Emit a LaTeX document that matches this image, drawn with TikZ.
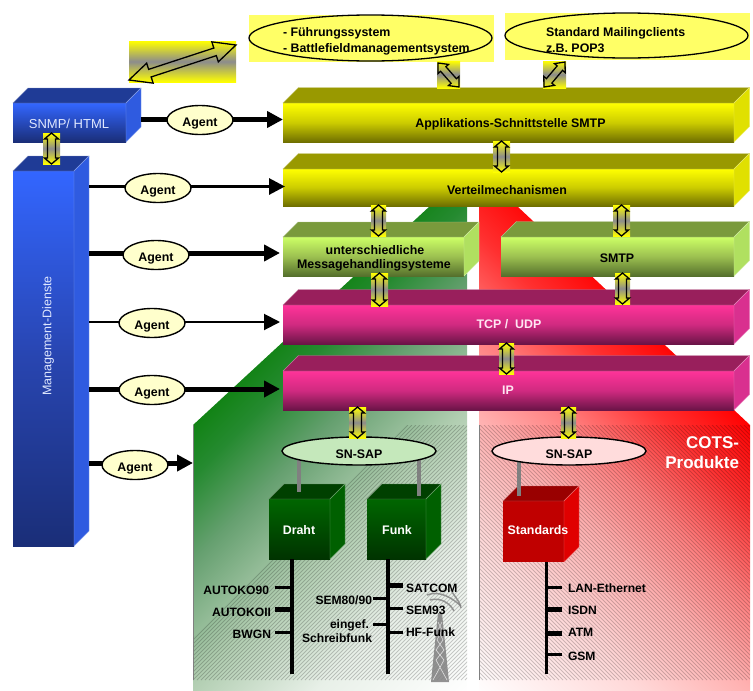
\documentclass[tikz,border=0pt]{standalone}
\usepackage{fontspec}
\setmainfont{Liberation Sans}
\usetikzlibrary{arrows.meta,calc,shapes.geometric}
\definecolor{gA}{HTML}{0A800A}\definecolor{gB}{HTML}{258A30}\definecolor{gC}{HTML}{66A070}\definecolor{gD}{HTML}{B0CDB0}\definecolor{gE}{HTML}{E8F0E8}
\definecolor{rB}{HTML}{FF3030}\definecolor{rC}{HTML}{FF8080}\definecolor{rD}{HTML}{FFB0B0}\definecolor{rE}{HTML}{FFD8D8}
\pgfdeclarehorizontalshading{greenS}{100bp}{color(0bp)=(gA); color(30bp)=(gA); color(35bp)=(gB); color(41bp)=(gC); color(49.5bp)=(gD); color(59bp)=(gE); color(70bp)=(white); color(100bp)=(white)}
\pgfdeclarehorizontalshading{redS}{100bp}{color(0bp)=(red); color(33bp)=(red); color(39bp)=(rB); color(46bp)=(rC); color(52bp)=(rD); color(60bp)=(rE); color(72bp)=(white); color(100bp)=(white)}
\definecolor{agentfill}{HTML}{FFFFCC}\definecolor{stubgray}{HTML}{808080}
\definecolor{yellowmid}{HTML}{CCCC00}\definecolor{yellowdark}{HTML}{6F6F00}\definecolor{yellowtop}{HTML}{999900}\definecolor{yellowside}{HTML}{E0E000}
\definecolor{greenlight}{HTML}{CCFF66}\definecolor{greenmid}{HTML}{9CC050}\definecolor{greendark}{HTML}{55702C}\definecolor{greentop}{HTML}{7A9A3C}\definecolor{greenside}{HTML}{B0E060}
\definecolor{pinkmain}{HTML}{FF3399}\definecolor{pinkmid}{HTML}{D02A80}\definecolor{pinkdark}{HTML}{6B1447}\definecolor{pinktop}{HTML}{991F5C}\definecolor{pinkside}{HTML}{D9308F}
\definecolor{bluemain}{HTML}{3366FF}\definecolor{bluemid}{HTML}{2845B0}\definecolor{bluedark}{HTML}{1A2E78}\definecolor{bluetop}{HTML}{1F3B96}\definecolor{blueside}{HTML}{2F5BE0}
\definecolor{cubegreen}{HTML}{006600}\definecolor{cubegreendark}{HTML}{003300}\definecolor{cubegreentop}{HTML}{004000}\definecolor{cubegreenside}{HTML}{006000}
\definecolor{cubered}{HTML}{C00000}\definecolor{cuberedtop}{HTML}{990000}\definecolor{cuberedside}{HTML}{E00000}
\definecolor{lightyellow}{HTML}{FFFF66}\definecolor{sapgreen}{HTML}{C5E8BB}\definecolor{sapred}{HTML}{FFDCDC}
\definecolor{arrowgray}{HTML}{8C8C8C}\definecolor{pinktext}{HTML}{FFE6F2}\definecolor{bluetext}{HTML}{E0E8FF}
\tikzset{
  lab/.style={inner sep=0pt,outer sep=0pt,font=\bfseries\fontsize{12.4}{14}\selectfont,text height=8.8pt,text depth=0pt},
  listlab/.style={lab,font=\bfseries\fontsize{12.1}{14}\selectfont},
  agentnode/.style={ellipse,draw=black,line width=1.4pt,fill=agentfill,minimum width=66pt,minimum height=29pt,inner sep=0pt,font=\bfseries\fontsize{12.4}{14}\selectfont,text height=12.5pt,text depth=0pt},
  appnode/.style={ellipse,draw=black,line width=1.3pt,inner sep=0pt},
  sapnode/.style={ellipse,draw=black,line width=1.4pt,minimum width=154pt,minimum height=28pt,inner sep=0pt,font=\bfseries\fontsize{12.4}{14}\selectfont,text height=14pt,text depth=0pt},
  agline/.style={line width=#1,-{Triangle[length=16pt,width=16pt]}},
  stub/.style={draw=stubgray,line width=4.5pt},
  yellowfront/.style={top color=yellow,bottom color=yellowdark,middle color=yellowmid},
  greenfront/.style={top color=greenlight,bottom color=greendark,middle color=greenmid},
  pinkfront/.style={top color=pinkmain,bottom color=pinkdark,middle color=pinkmid},
  bluefront/.style={top color=bluemain,bottom color=bluedark},
  tallfront/.style={top color=bluemain,bottom color=bluedark,middle color=bluemid},
  dgfront/.style={top color=cubegreen,bottom color=cubegreendark},
  redfront/.style={fill=cubered},
  hatchline/.style={line width=.9pt,draw=black,opacity=.2},
}
% name, x0,y0,x1,y1, depth, front style, top colour, side colour
\newcommand\boxthree[9]{%
  \node[rectangle,inner sep=0pt,outer sep=0pt,minimum width={(#4-#2)*1pt},minimum height={(#5-#3)*1pt},#7] (#1) at ({(#2+#4)/2},{(#3+#5)/2}) {};
  \filldraw[fill=#8,draw=#8!60!white,line width=.4pt] (#1.north west) -- ++(#6,-#6) -- ++({#4-#2},0) -- (#1.north east) -- cycle;
  \filldraw[fill=#9,draw=#9!60!white,line width=.4pt] (#1.north east) -- ++(#6,-#6) -- ++(0,{#5-#3}) -- (#1.south east) -- cycle;
}
% from x1,y1 to x2,y2 : head half-width, head length, shaft half-width
\newcommand\twoway[7]{%
  \pgfmathsetmacro\dblL{veclen(#3-#1,#4-#2)}%
  \pgfmathsetmacro\dblA{atan2(-(#4-#2),#3-#1)}%
  \draw[black,line width=1.3pt,line join=miter,shift={(#1,#2)},rotate=\dblA]
    (0,0) -- (#6,#5) -- (#6,#7) -- ({\dblL-#6},#7) -- ({\dblL-#6},#5) -- (\dblL,0)
    -- ({\dblL-#6},-#5) -- ({\dblL-#6},-#7) -- (#6,-#7) -- (#6,-#5) -- cycle;
}
% gradient patch x0,y0,x1,y1
\newcommand\patch[4]{\shade[top color=yellow,bottom color=yellow,middle color=arrowgray] (#1,#2) rectangle (#3,#4);}
% vertical double arrow in its patch
\newcommand\vtwo[4]{\patch{#1}{#2}{#3}{#4}\pgfmathsetmacro\midx{(#1+#3)/2}\twoway{\midx}{#2}{\midx}{#4}{7}{6}{4}}
\begin{document}
\begin{tikzpicture}[x=1pt,y=-1pt]
\useasboundingbox (0,0) rectangle (753,691);
% green backdrop
\begin{scope}
  \clip (193,425) -- (430,206) -- (467,206) -- (467,691) -- (193,691) -- cycle;
  \shade[shading=greenS,shading angle=-45] (180,200) rectangle (680,700);
  \clip (193,425) rectangle (467,680);
  \foreach \k in {0,4,...,560}{\draw[hatchline] ({193+\k-40},680) -- ({193+\k+255-40},425);}
\end{scope}
\draw[stubgray,line width=.5pt] (193,425) -- (193,680);
% red backdrop
\begin{scope}
  \clip (479,206) -- (517,206) -- (750,425) -- (750,691) -- (479,691) -- cycle;
  \shade[shading=redS,shading angle=-135] (290,200) rectangle (790,700);
  \clip (479,425) rectangle (750,680);
  \foreach \k in {0,4,...,560}{\draw[hatchline] ({479+\k-255},425) -- ({479+\k},680);}
\end{scope}
\draw[stubgray,line width=.5pt] (479,425) -- (479,680);
% top application ellipses
\fill[lightyellow] (249,15) rectangle (494,62);
\fill[lightyellow] (505,13) rectangle (750,60);
\node[appnode,minimum width=243pt,minimum height=46pt] (fuehr) at (370.5,38) {};
\node[appnode,minimum width=243pt,minimum height=45pt] (mail) at (626.5,35.5) {};
\node[lab,anchor=west] (fuehrA) at (283,32) {- Führungssystem};
\node[lab,anchor=west] (fuehrB) at (283,48) {- Battlefieldmanagementsystem};
\node[lab,anchor=west] (mailA) at (546,32) {Standard Mailingclients};
\node[lab,anchor=west] (mailB) at (546,48) {z.B. POP3};
% big free double arrow
\patch{129}{41}{236}{82}
\twoway{129}{80}{236}{45}{10.5}{22}{4}
% layer boxes
\boxthree{snmp}{13}{103}{126}{142}{15}{bluefront}{bluetop}{blueside}
\boxthree{mgmt}{13}{171}{74}{546}{15}{tallfront}{bluetop}{blueside}
\boxthree{appl}{283}{103}{734}{142}{15.5}{yellowfront}{yellowtop}{yellowside}
\boxthree{vert}{283}{169}{734}{206}{15.5}{yellowfront}{yellowtop}{yellowside}
\boxthree{msg}{283}{237}{464}{276}{15}{greenfront}{greentop}{greenside}
\boxthree{smtp}{501}{237}{734}{276}{15.5}{greenfront}{greentop}{greenside}
\boxthree{tcp}{283}{305}{734}{344}{15.5}{pinkfront}{pinktop}{pinkside}
\boxthree{ip}{283}{371}{734}{410}{15.5}{pinkfront}{pinktop}{pinkside}
% cubes
\boxthree{draht}{269}{499}{330}{559}{15}{dgfront}{cubegreentop}{cubegreenside}
\boxthree{funk}{367}{499}{426}{559}{15}{dgfront}{cubegreentop}{cubegreenside}
\boxthree{stand}{503}{501}{564}{562}{15}{redfront}{cuberedtop}{cuberedside}
% stubs, then SAP ellipses over their upper ends
\coordinate (sapgc) at (359,451);
\coordinate (saprc) at (569,451);
\coordinate (dstub) at (299,492);
\coordinate (fstub) at (419,496);
\coordinate (sstub) at (519,496);
\draw[stub] (sapgc -| dstub) -- (dstub);
\draw[stub] (sapgc -| fstub) -- (fstub);
\draw[stub] (saprc -| sstub) -- (sstub);
\node[sapnode,fill=sapgreen] (sapg) at (sapgc) {SN-SAP};
\node[sapnode,fill=sapred] (sapr) at (saprc) {SN-SAP};
% bars
\draw[line width=4.5pt] (draht.south -| 292,0) -- (292,674);
\draw[line width=4pt] (funk.south -| 388,0) -- (388,674);
\draw[line width=3pt] (stand.south -| 546,0) -- (546,674);
% ticks
\draw[line width=3pt] (275,587) -- (292,587);
\draw[line width=5pt] (275,609) -- (292,609);
\draw[line width=3pt] (275,632) -- (292,632);
\draw[line width=5pt] (388,585) -- (403,585);
\draw[line width=3pt] (373,598) -- (388,598);
\draw[line width=3pt] (388,608) -- (403,608);
\draw[line width=3pt] (373,624) -- (388,624);
\draw[line width=3pt] (388,632) -- (403,632);
\draw[line width=3pt] (546,587) -- (562,587);
\draw[line width=5pt] (546,609) -- (562,609);
\draw[line width=5pt] (546,633) -- (562,633);
\draw[line width=3pt] (546,654) -- (562,654);
% tower
\fill[stubgray,opacity=.85] (431,682) -- (449,682) -- (442,613) -- (438,613) -- cycle;
\draw[white,line width=.6pt,opacity=.7] (433,680) -- (444,660) -- (436,650) -- (443,640) -- (438,630) -- (442,622)
  (447,680) -- (436,660) -- (444,650) -- (437,640) -- (442,630) -- (438,622);
\draw[stubgray,line width=1.5pt,opacity=.8] (427,595) .. controls (440,590) and (452,598) .. (461,606);
\draw[stubgray,line width=1.5pt,opacity=.8] (430,600) .. controls (440,597) and (450,603) .. (454,611);
\draw[stubgray,line width=1.5pt,opacity=.8] (452,592) .. controls (456,598) and (460,602) .. (461,608);
% agent connectors
\coordinate (fromA) at (141,119.5);
\coordinate (fromB) at (89,186.5);
\coordinate (fromC) at (89,253);
\coordinate (fromD) at (89,322);
\coordinate (fromE) at (89,389);
\coordinate (fromF) at (89,463);
\coordinate (toF) at (193,463);
\draw[agline=5pt] (fromA) -- (appl.west |- fromA);
\draw[agline=3pt,shorten >=-2pt] (fromB) -- (vert.west |- fromB);
\draw[agline=5pt,shorten >=3pt] (fromC) -- (msg.west |- fromC);
\draw[agline=2pt,shorten >=3pt] (fromD) -- (tcp.west |- fromD);
\draw[agline=5pt,shorten >=3pt] (fromE) -- (ip.west |- fromE);
\draw[agline=5pt] (fromF) -- (toF);
\node[agentnode] (agA) at (200,120) {Agent};
\node[agentnode] (agB) at (158,188) {Agent};
\node[agentnode] (agC) at (156,255) {Agent};
\node[agentnode] (agD) at (152,323) {Agent};
\node[agentnode] (agE) at (152,390) {Agent};
\node[agentnode] (agF) at (135,465) {Agent};
% double arrows
\vtwo{43}{133}{60}{164}
\vtwo{493}{141}{510}{172}
\vtwo{371}{205}{386}{236}
\vtwo{613}{205}{630}{236}
\vtwo{371}{273}{388}{306}
\vtwo{615}{273}{630}{304}
\vtwo{499}{343}{514}{374}
\vtwo{349}{407}{366}{438}
\vtwo{561}{407}{576}{438}
\patch{437}{61}{460}{88}
\twoway{438}{63}{459}{87}{7}{8}{3.5}
\patch{543}{61}{566}{88}
\twoway{565}{62}{544}{87}{7}{8}{3.5}
% box labels
\node[lab] (tA) at (510.5,123) {Applikations-Schnittstelle SMTP};
\node[lab] (tB) at (507,190) {Verteilmechanismen};
\node[lab] (tC) at (375,250) {unterschiedliche};
\node[lab] (tD) at (374,264) {Messagehandlingsysteme};
\node[lab] (tE) at (617,258) {SMTP};
\node[lab,text=pinktext] (tF) at (509,324) {TCP / \ UDP};
\node[lab,text=pinktext] (tG) at (508,390) {IP};
\node[lab,text=white] (tH) at (299,530) {Draht};
\node[lab,text=white] (tI) at (397,530) {Funk};
\node[lab,text=white] (tJ) at (538,530) {Standards};
\node[lab,font=\fontsize{13}{15}\selectfont,text=bluetext] (tK) at (69,124) {SNMP/ HTML};
\node[lab,font=\fontsize{12.5}{14}\selectfont,text=bluetext,rotate=90] (tL) at (47,336) {Management-Dienste};
\node[lab,anchor=east,font=\bfseries\fontsize{17}{19}\selectfont,text=white,text height=12pt] (tM) at (739,442) {COTS-};
\node[lab,anchor=east,font=\bfseries\fontsize{17}{19}\selectfont,text=white,text height=12pt] (tN) at (739,462) {Produkte};
% list labels
\node[listlab,anchor=east] (lA) at (269,590) {AUTOKO90};
\node[listlab,anchor=east] (lB) at (271,612) {AUTOKOII};
\node[listlab,anchor=east] (lC) at (271,634) {BWGN};
\node[listlab,anchor=east] (lD) at (372,600) {SEM80/90};
\node[listlab,anchor=east] (lE) at (369,624) {eingef.};
\node[listlab,anchor=east] (lF) at (372,638) {Schreibfunk};
\node[listlab,anchor=west] (lG) at (406,588) {SATCOM};
\node[listlab,anchor=west] (lH) at (406,610) {SEM93};
\node[listlab,anchor=west] (lI) at (406,632) {HF-Funk};
\node[listlab,anchor=west] (lJ) at (568,588) {LAN-Ethernet};
\node[listlab,anchor=west] (lK) at (568,610) {ISDN};
\node[listlab,anchor=west] (lL) at (568,632) {ATM};
\node[listlab,anchor=west] (lM) at (568,656) {GSM};
\end{tikzpicture}
\end{document}
